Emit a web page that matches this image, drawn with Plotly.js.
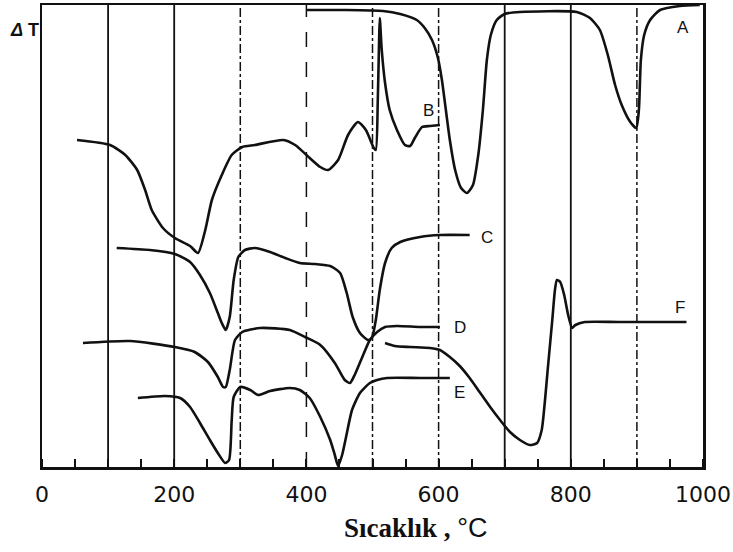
<!DOCTYPE html>
<html>
<head>
<meta charset="utf-8">
<script src="https://cdn.plot.ly/plotly-3.0.1.min.js"></script>
<style>html,body{margin:0;padding:0;background:#fff;}#chart{width:733px;height:552px;}</style>
</head>
<body>
<div id="chart"></div>
<script>
// Temperature (°C) and relative ΔT (arbitrary units)
const aT  = [401,458,516,542,567,579,590,599,605,611,617,625,634,643,652,660,667,673,679,688,700,723,809,829,844,856,867,877,890,899,903,906,911,920,935,965,995];
const aDT = [457,457,456,453,447,439,427,409,387,357,327,297,279,274,282,312,357,407,432,447,453,455,455,449,437,412,382,362,345,339,357,407,432,447,457,461,462];

const bT  = [53,103,126,144,156,166,183,201,224,236,247,257,272,287,303,322,365,383,405,421,433,448,463,478,490,502,505,508,510,511,514,519,526,537,549,557,564,575,587,602];
const bDT = [327,322,312,297,277,257,239,229,221,214,237,267,292,312,320,322,327,322,309,300,297,307,332,345,337,319,317,367,427,449,417,384,357,337,322,321,329,340,341,342];

const cT  = [113,163,201,224,239,254,266,272,278,284,290,297,307,322,345,368,390,413,436,451,461,470,481,493,499,505,511,519,529,542,572,602,647];
const cDT = [219,217,213,205,192,174,154,144,137,150,187,210,217,219,215,209,204,203,201,194,174,150,134,127,129,147,177,204,219,225,230,232,232];

const dT  = [62,133,201,231,251,266,274,278,284,292,303,330,375,398,421,443,458,466,473,484,496,507,519,537,572,602];
const dDT = [124,126,120,115,105,90,80,80,97,127,135,139,137,130,122,104,87,84,92,109,127,135,140,141,140,140];

const eT  = [145,186,209,224,239,254,266,277,283,287,290,300,315,327,345,375,390,405,421,436,443,448,454,460,469,481,496,507,522,572,617];
const eDT = [69,71,69,60,44,27,14,4,7,47,70,80,77,72,76,79,77,69,50,27,12,1,12,30,57,74,84,87,89,89,89];

const fT  = [519,534,557,587,602,617,632,647,662,678,693,708,723,738,749,756,761,765,772,776,779,784,790,796,802,807,821,874,975];
const fDT = [124,121,120,119,117,110,101,89,75,60,47,35,27,22,24,37,67,97,147,177,187,185,172,152,139,142,145,145,145];

const curveNames = ['A','B','C','D','E','F'];
const labelT  = [970,584,673,632,632,965];
const labelDT = [440,357,230,140,75,160];

const gridT = [100,200,300,400,500,600,700,800,900];
const gridDash = ['solid','solid','dashdot','longdash','dashdot','dashdot','solid','solid','dashdot'];
const tickVals = [0,200,400,600,800,1000];

const series = [[aT,aDT],[bT,bDT],[cT,cDT],[dT,dDT],[eT,eDT],[fT,fDT]];
const traces = series.map((s,i)=>({
  x:s[0], y:s[1], type:'scatter', mode:'lines', name:curveNames[i],
  line:{color:'#111', width:2.6, shape:'spline', smoothing:0.6},
  hoverinfo:'skip', showlegend:false
}));

const shapes = gridT.map((g,i)=>({
  type:'line', xref:'x', yref:'paper', x0:g, x1:g, y0:0, y1:1,
  line:{color:'#111', width: gridDash[i]==='solid'?1.8:1.5, dash:gridDash[i]}
}));

const annotations = curveNames.map((n,i)=>({
  x:labelT[i], y:labelDT[i], xref:'x', yref:'y', text:n, showarrow:false,
  font:{family:'Liberation Sans, Arial, sans-serif', size:17, color:'#111'}
}));
annotations.push({
  xref:'paper', yref:'paper', x:-0.052, xanchor:'left', y:0.972, text:'<b><i>Δ</i> T</b>', showarrow:false,
  font:{family:'Liberation Sans, Arial, sans-serif', size:18, color:'#111'}
});
annotations.push({
  xref:'paper', yref:'paper', x:0.566, y:-0.132, yanchor:'middle', showarrow:false,
  text:'<b>Sıcaklık ,</b> <span style="font-family:Liberation Sans">°C</span>',
  font:{family:'Liberation Serif, Times New Roman, serif', size:27, color:'#111'}
});

const layout = {
  width:733, height:552,
  margin:{l:42, r:30, t:5, b:85},
  paper_bgcolor:'#fff', plot_bgcolor:'#fff',
  xaxis:{
    range:[0,1000], showgrid:false, zeroline:false,
    showline:true, mirror:true, linecolor:'#111', linewidth:2.5,
    tickvals:tickVals, ticks:'', ticklabelstandoff:6,
    tickfont:{family:'DejaVu Sans, sans-serif', size:22, color:'#111'},
    minor:{ticks:'inside', dtick:50, tick0:0, ticklen:8, tickwidth:2, tickcolor:'#111', showgrid:false}
  },
  yaxis:{
    range:[0,462], showgrid:false, zeroline:false, showticklabels:false, ticks:'',
    showline:true, mirror:true, linecolor:'#111', linewidth:2.5
  },
  shapes:shapes, annotations:annotations
};

Plotly.newPlot('chart', traces, layout, {displayModeBar:false, staticPlot:true});
</script>
</body>
</html>
